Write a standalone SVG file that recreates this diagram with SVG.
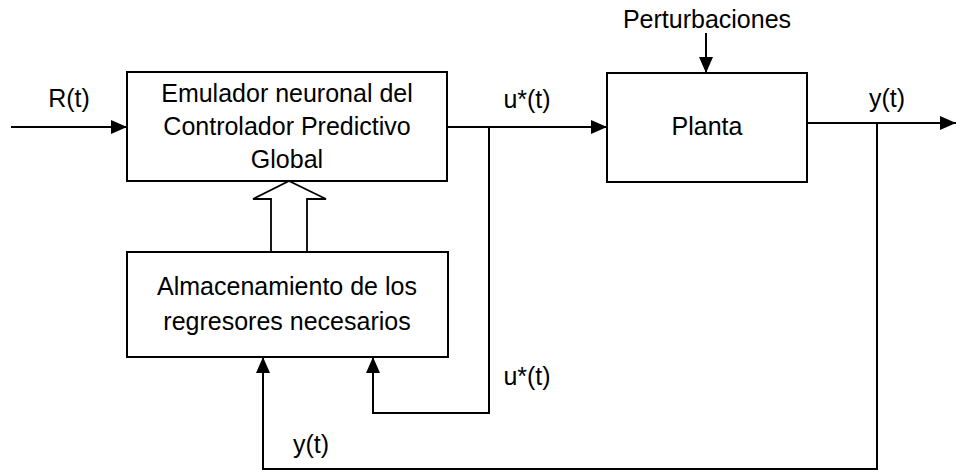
<svg xmlns="http://www.w3.org/2000/svg" width="956" height="470" viewBox="0 0 956 470">
<defs>
<style>
.box{fill:#fff;stroke:#000;stroke-width:2}
.ln{fill:none;stroke:#000;stroke-width:2}
.t{font-family:"Liberation Sans",Arial,sans-serif;font-size:25px;fill:#000;text-anchor:middle}
</style>
<marker id="ah" markerUnits="userSpaceOnUse" markerWidth="16" markerHeight="14" refX="16" refY="7" orient="auto">
<path d="M0,0 L16,7 L0,14 z" fill="#000"/>
</marker>
</defs>
<rect width="956" height="470" fill="#fff"/>
<g id="connectors">
<path class="ln" d="M11,127 H127" marker-end="url(#ah)"/>
<path class="ln" d="M447,127 H607" marker-end="url(#ah)"/>
<path class="ln" d="M706,33 V73" marker-end="url(#ah)"/>
<path class="ln" d="M807,123 H956" marker-end="url(#ah)"/>
<path class="ln" d="M877,123 V469 H263 V357" marker-end="url(#ah)"/>
<path class="ln" d="M489,127 V413 H373 V357" marker-end="url(#ah)"/>
<polyline class="ln" points="271,252 271,199 253,199 289,181 326,199 307,199 307,252" style="stroke-width:1.8"/>
<text class="t" x="69" y="107">R(t)</text>
<text class="t" x="527" y="108">u*(t)</text>
<text class="t" x="707" y="28">Perturbaciones</text>
<text class="t" x="887" y="107">y(t)</text>
<text class="t" x="527" y="385">u*(t)</text>
<text class="t" x="311" y="453">y(t)</text>
</g>
<g id="emulador">
<rect class="box" x="127" y="72" width="320" height="109"/>
<text class="t" x="287" y="102">Emulador neuronal del</text>
<text class="t" x="287" y="135">Controlador Predictivo</text>
<text class="t" x="287" y="168">Global</text>
</g>
<g id="planta">
<rect class="box" x="607" y="73" width="200" height="109"/>
<text class="t" x="707" y="135">Planta</text>
</g>
<g id="almacenamiento">
<rect class="box" x="127" y="252" width="321" height="105"/>
<text class="t" x="287" y="295">Almacenamiento de los</text>
<text class="t" x="287" y="330">regresores necesarios</text>
</g>
</svg>
